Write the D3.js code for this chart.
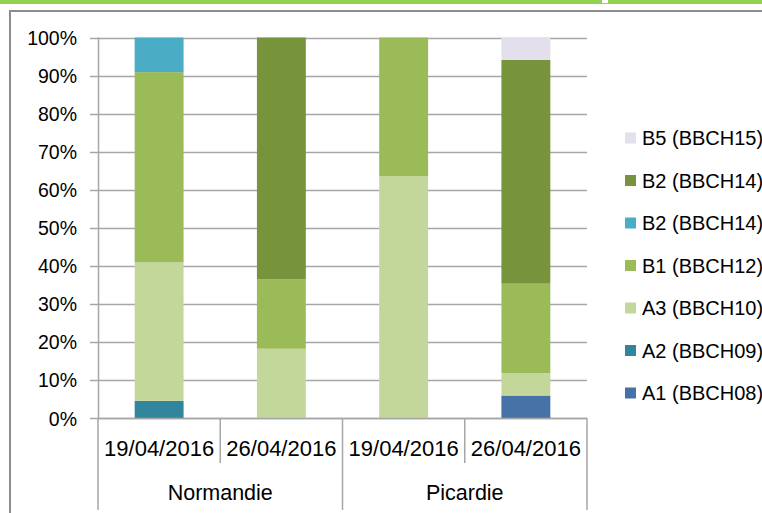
<!DOCTYPE html>
<html>
<head>
<meta charset="utf-8">
<script src="https://cdn.jsdelivr.net/npm/d3@7"></script>
<style>
  html, body { margin: 0; padding: 0; background: #fff; }
  svg text { font-family: "Liberation Sans", Arial, sans-serif; fill: #000; }
</style>
</head>
<body>
<div id="chart"></div>
<script>
// --- données ---
const regions = ["Normandie", "Normandie", "Picardie", "Picardie"];
const dates = ["19/04/2016", "26/04/2016", "19/04/2016", "26/04/2016"];
const stages = ["A1 (BBCH08)", "A2 (BBCH09)", "A3 (BBCH10)", "B1 (BBCH12)", "B2 (BBCH14)", "B2 (BBCH14)", "B5 (BBCH15)"];
const stageKeys = ["A1", "A2", "A3", "B1", "B2a", "B2b", "B5"];
const stageColors = ["#4672a8", "#31859c", "#c4d79b", "#9bbb59", "#4bacc6", "#77933c", "#e4dfec"];
const valA1 = [0, 0, 0, 5.9];
const valA2 = [4.5, 0, 0, 0];
const valA3 = [36.4, 18.2, 63.6, 5.9];
const valB1 = [50.0, 18.2, 36.4, 23.5];
const valB2a = [9.1, 0, 0, 0];
const valB2b = [0, 63.6, 0, 58.8];
const valB5 = [0, 0, 0, 5.9];
const yTicks = [0, 10, 20, 30, 40, 50, 60, 70, 80, 90, 100];

const W = 762, H = 513;
const plot = { left: 98, right: 587, top: 37.5, bottom: 418 };

const rows = dates.map((d, i) => ({
  id: i, date: d, region: regions[i],
  A1: valA1[i], A2: valA2[i], A3: valA3[i], B1: valB1[i],
  B2a: valB2a[i], B2b: valB2b[i], B5: valB5[i]
}));

const svg = d3.select("#chart").append("svg")
  .attr("width", W).attr("height", H);

// bandeau vert + cadre
svg.append("rect").attr("x", 0).attr("y", 0).attr("width", W).attr("height", 4).attr("fill", "#92d050");
svg.append("rect").attr("x", 602).attr("y", 0).attr("width", 6).attr("height", 3).attr("fill", "#fff");
svg.append("path")
  .attr("d", `M10,${H} L10,11 L${W},11`)
  .attr("fill", "none").attr("stroke", "#8c8c8c").attr("stroke-width", 2);

// --- échelles ---
const x = d3.scaleBand().domain(rows.map(r => r.id))
  .range([plot.left, plot.right]).paddingInner(0.6).paddingOuter(0.3);
const y = d3.scaleLinear().domain([0, 100]).range([plot.bottom, plot.top]);

// grille
svg.append("g").selectAll("line").data(yTicks).join("line")
  .attr("x1", plot.left - 8).attr("x2", plot.right)
  .attr("y1", d => Math.round(y(d)) + 0.5).attr("y2", d => Math.round(y(d)) + 0.5)
  .attr("stroke", "#a6a6a6").attr("stroke-width", 1.5);

// axe Y
const yAxis = svg.append("g").attr("transform", `translate(${plot.left},0)`)
  .call(d3.axisLeft(y).tickValues(yTicks).tickSize(0).tickPadding(21).tickFormat(d => d + "%"));
yAxis.select(".domain").remove();
yAxis.selectAll("text").attr("font-size", 19.5).attr("dy", "0.36em");
svg.append("line").attr("x1", plot.left + 0.5).attr("x2", plot.left + 0.5)
  .attr("y1", plot.top).attr("y2", plot.bottom)
  .attr("stroke", "#a6a6a6").attr("stroke-width", 1.5);

// barres empilées
const stack = d3.stack().keys(stageKeys)(rows);
svg.append("g").selectAll("g").data(stack).join("g")
  .attr("fill", (d, i) => stageColors[i])
  .selectAll("rect").data(d => d).join("rect")
  .attr("x", d => x(d.data.id))
  .attr("width", x.bandwidth())
  .attr("y", d => y(d[1]))
  .attr("height", d => y(d[0]) - y(d[1]));

// axe X hiérarchique
const step = x.step();
const axisG = svg.append("g").attr("stroke", "#a6a6a6").attr("stroke-width", 1.5);
axisG.append("line").attr("x1", plot.left).attr("x2", plot.right)
  .attr("y1", plot.bottom + 0.5).attr("y2", plot.bottom + 0.5);
const edges = d3.range(rows.length + 1).map(i => plot.left + i * step);
axisG.selectAll("line.sep").data(edges).join("line").attr("class", "sep")
  .attr("x1", d => d).attr("x2", d => d)
  .attr("y1", plot.bottom)
  .attr("y2", (d, i) => (i % 2 === 0 ? 510 : 463));

svg.append("g").selectAll("text").data(rows).join("text")
  .attr("x", d => x(d.id) + x.bandwidth() / 2)
  .attr("y", 456)
  .attr("text-anchor", "middle")
  .attr("font-size", 22)
  .text(d => d.date);

const groupNames = Array.from(new Set(regions));
svg.append("g").selectAll("text").data(groupNames).join("text")
  .attr("x", (d, i) => plot.left + step * (2 * i + 1))
  .attr("y", 500)
  .attr("text-anchor", "middle")
  .attr("font-size", 21.5)
  .text(d => d);

// légende (ordre inverse)
const legendItems = stages.map((s, i) => ({ label: s, color: stageColors[i] })).reverse();
const legend = svg.append("g").selectAll("g").data(legendItems).join("g")
  .attr("transform", (d, i) => `translate(625,${138 + i * 42.5})`);
legend.append("rect").attr("x", 0).attr("y", -5.5).attr("width", 11).attr("height", 11)
  .attr("fill", d => d.color);
legend.append("text").attr("x", 17).attr("y", 0).attr("dy", "0.36em")
  .attr("font-size", 20).text(d => d.label);
</script>
</body>
</html>
